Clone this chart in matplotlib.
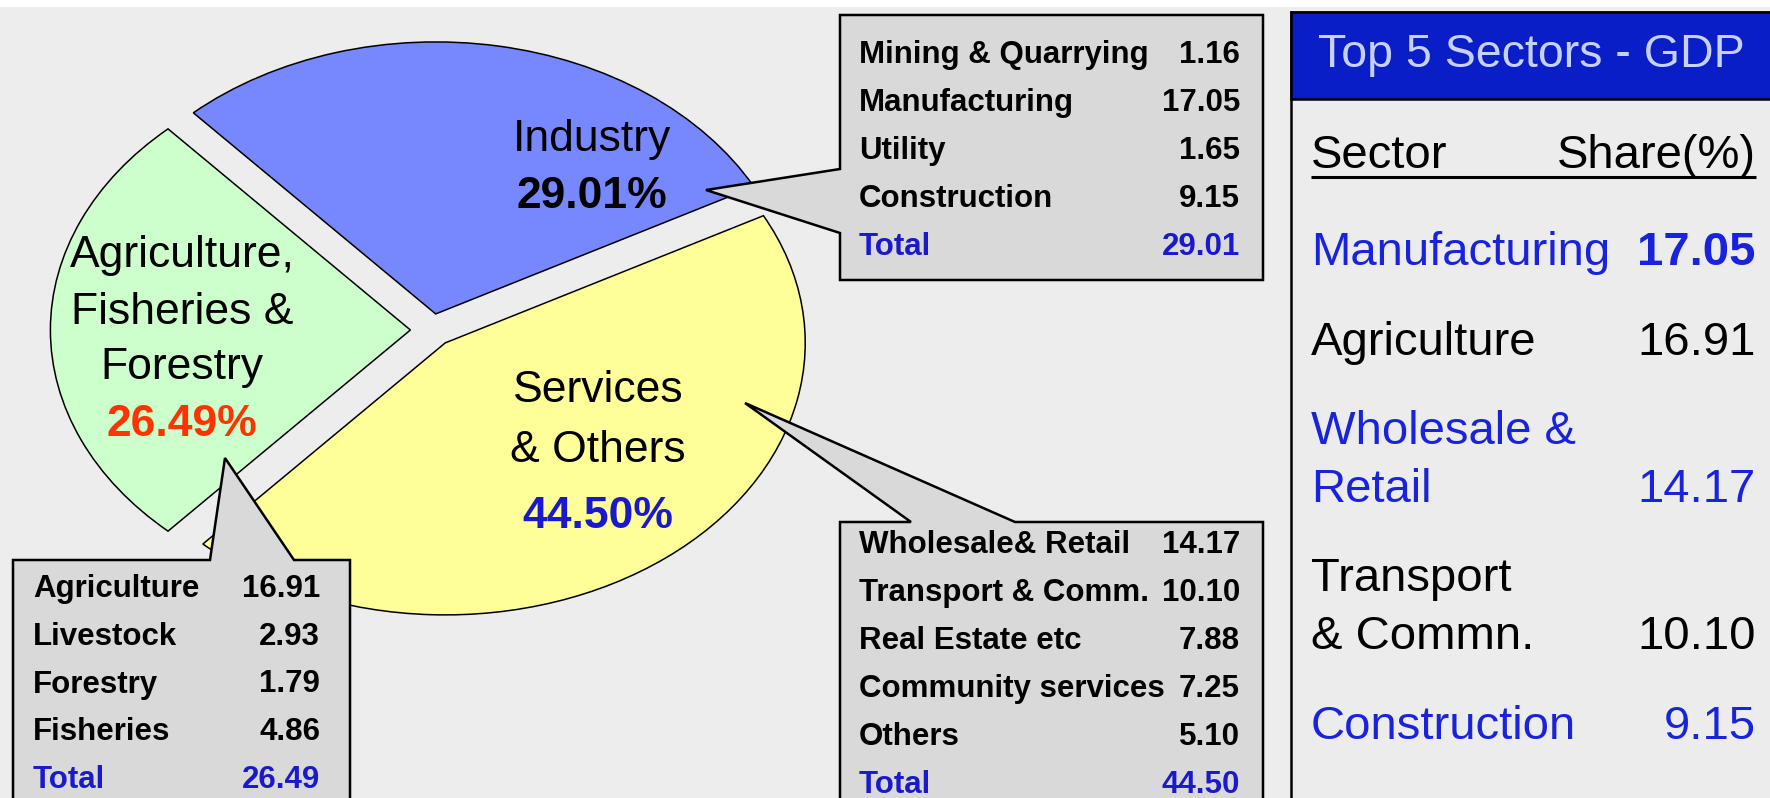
import matplotlib
matplotlib.use('Agg')
import matplotlib.pyplot as plt
from matplotlib.patches import Polygon, Rectangle

plt.rcParams['font.family'] = ['Liberation Sans', 'DejaVu Sans']

# ---------------- data ----------------
pie_sectors = ['Agriculture,\nFisheries &\nForestry', 'Industry', 'Services\n& Others']
pie_shares = [26.49, 29.01, 44.50]

agri_items = ['Agriculture', 'Livestock', 'Forestry', 'Fisheries']
agri_values = [16.91, 2.93, 1.79, 4.86]

industry_items = ['Mining & Quarrying', 'Manufacturing', 'Utility', 'Construction']
industry_values = [1.16, 17.05, 1.65, 9.15]

services_items = ['Wholesale& Retail', 'Transport & Comm.', 'Real Estate etc',
                  'Community services', 'Others']
services_values = [14.17, 10.10, 7.88, 7.25, 5.10]

top5_sectors = ['Manufacturing', 'Agriculture', 'Wholesale &\nRetail',
                'Transport\n& Commn.', 'Construction']
top5_shares = [17.05, 16.91, 14.17, 10.10, 9.15]

# ---------------- styles ----------------
pie_colors = ['#ccffcc', '#7788ff', '#ffff99']
pct_colors = ['#ff3300', '#000000', '#1a1acc']
top5_colors = ['#1923dc', '#000000', '#1923dc', '#000000', '#1923dc']
top5_bold = [True, False, False, False, False]
BLUE = '#1a1acc'
BOX = '#d9d9d9'

W, H = 1770, 798
fig = plt.figure(figsize=(W / 100, H / 100), dpi=100)
fig.patch.set_facecolor('#ededed')

# ---------------- pie (elliptical) ----------------
cx, cy, rx, ry = 432, 330, 360, 272
axp = fig.add_axes([0, 0, 1, 1])
order = [1, 2, 0]  # Industry, Services, Agriculture (clockwise)
# agriculture wedge centred on the left (9 o'clock)
start = 180 - 360 * pie_shares[0] / sum(pie_shares) / 2
axp.pie([pie_shares[i] for i in order], colors=[pie_colors[i] for i in order],
        startangle=start, counterclock=False, explode=[0.06] * 3,
        wedgeprops=dict(edgecolor='black', linewidth=1.1))
axp.set_aspect('auto')
axp.set_xlim(-cx / rx, (W - cx) / rx)
axp.set_ylim(-(H - cy) / ry, cy / ry)
axp.axis('off')

# ---------------- overlay in pixel coordinates ----------------
ax = fig.add_axes([0, 0, 1, 1])
ax.set_xlim(0, W)
ax.set_ylim(H, 0)
ax.axis('off')

ax.add_patch(Rectangle((0, 0), W, 7, facecolor='white', edgecolor='none', zorder=0))

# pie labels
label_pos = {0: (182, [256, 312, 368]), 1: (592, [140]), 2: (598, [390, 451])}
pct_y = {0: 424, 1: 196, 2: 517}
for i in range(3):
    x, ys = label_pos[i]
    for line, y in zip(pie_sectors[i].split('\n'), ys):
        ax.text(x, y, line, ha='center', va='center', fontsize=32, color='black', zorder=5)
    ax.text(x, pct_y[i], f'{pie_shares[i]:.2f}%', ha='center', va='center', fontsize=32,
            fontweight='bold', color=pct_colors[i], zorder=5)

LW = 1.8


def callout(verts):
    ax.add_patch(Polygon(verts, closed=True, facecolor=BOX, edgecolor='black',
                         linewidth=LW, zorder=3, joinstyle='miter'))


def table(items, values, total, x0, x1, y0, step):
    for k, (name, v) in enumerate(zip(items, values)):
        y = y0 + k * step
        ax.text(x0, y, name, ha='left', va='baseline', fontsize=22.5, fontweight='bold',
                color='black', zorder=4)
        ax.text(x1, y, f'{v:.2f}', ha='right', va='baseline', fontsize=22.5,
                fontweight='bold', color='black', zorder=4)
    y = y0 + len(items) * step
    ax.text(x0, y, 'Total', ha='left', va='baseline', fontsize=22.5, fontweight='bold',
            color=BLUE, zorder=4)
    ax.text(x1, y, f'{total:.2f}', ha='right', va='baseline', fontsize=22.5,
            fontweight='bold', color=BLUE, zorder=4)


# Industry callout
callout([(840, 15), (1263, 15), (1263, 280), (840, 280), (840, 233), (706, 190), (840, 169)])
table(industry_items, industry_values, pie_shares[1], 859, 1240, 63, 48)

# Agriculture callout
callout([(13, 560), (210, 560), (225, 458), (294, 560), (350, 560), (350, 820), (13, 820)])
table(agri_items, agri_values, pie_shares[0], 33, 320, 597, 47.75)

# Services callout
callout([(840, 522), (911, 522), (745, 403), (1015, 522), (1263, 522), (1263, 820), (840, 820)])
table(services_items, services_values, pie_shares[2], 859, 1240, 553, 48)

# ---------------- right panel ----------------
ax.add_patch(Rectangle((1291, 12), 520, 830, facecolor='#ececec', edgecolor='black',
                       linewidth=LW, zorder=3))
ax.add_patch(Rectangle((1291, 12), 520, 87, facecolor='#0a1ec8', edgecolor='black',
                       linewidth=LW, zorder=3))
ax.text(1318, 67, 'Top 5 Sectors - GDP', ha='left', va='baseline', fontsize=33.5,
        color='#c8d0ff', zorder=4)
ax.text(1311, 168, 'Sector', ha='left', va='baseline', fontsize=34, color='black', zorder=4)
ax.text(1756, 168, 'Share(%)', ha='right', va='baseline', fontsize=34, color='black', zorder=4)
ax.plot([1311, 1756], [177, 177], color='black', linewidth=2.2, zorder=4,
        solid_capstyle='butt')

row_last_baseline = [265, 355, 502, 649, 739]
line_step = 58
for name, v, c, b, yb in zip(top5_sectors, top5_shares, top5_colors, top5_bold,
                             row_last_baseline):
    lines = name.split('\n')
    for j, line in enumerate(lines):
        y = yb - (len(lines) - 1 - j) * line_step
        ax.text(1311, y, line, ha='left', va='baseline', fontsize=34, color=c, zorder=4)
    ax.text(1756, yb, f'{v:.2f}', ha='right', va='baseline', fontsize=34, color=c,
            fontweight='bold' if b else 'normal', zorder=4)

fig.savefig('out.png', dpi=100, facecolor=fig.get_facecolor())
